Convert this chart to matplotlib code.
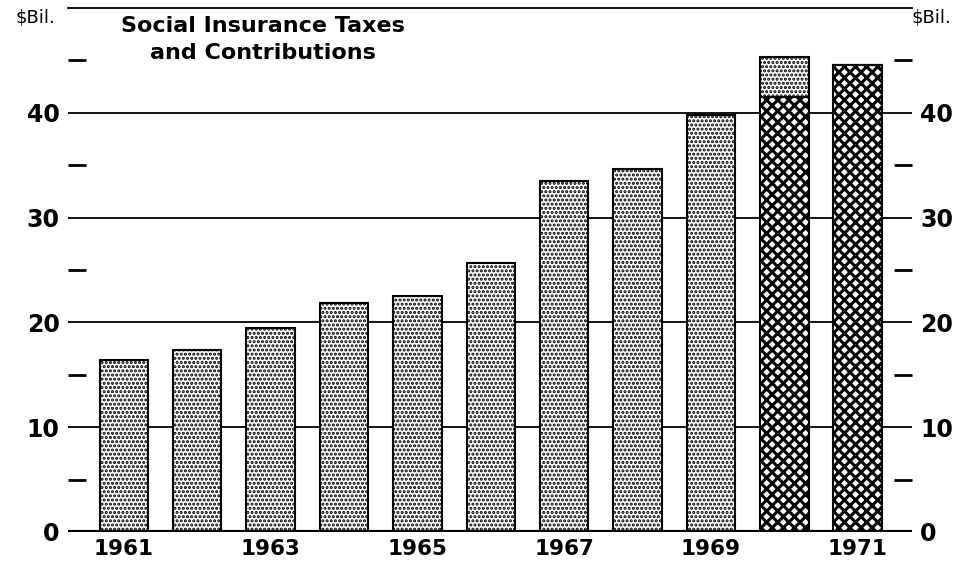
# Social Insurance Taxes and Contributions, 1961-1971
import numpy as np
import matplotlib.pyplot as plt
from matplotlib.ticker import FixedLocator

plt.rcParams['font.family'] = 'DejaVu Sans'

# ------------------------------------------
# DATA
# ------------------------------------------
years = [1961, 1962, 1963, 1964, 1965, 1966, 1967, 1968, 1969, 1970, 1971]
stippled = [16.4, 17.4, 19.5, 21.9, 22.5, 25.7, 33.5, 34.6, 39.8, 3.8, 0]
crosshatch = [0, 0, 0, 0, 0, 0, 0, 0, 0, 41.5, 44.6]
year_labels = ['1961', '1963', '1965', '1967', '1969', '1971']

x = np.arange(len(years))

fig = plt.figure(figsize=(9.8, 5.76), dpi=100)
ax = fig.add_axes([0.0694, 0.0764, 0.8612, 0.9096])

# gridlines behind the bars
for v in [10, 20, 30, 40]:
    ax.axhline(v, color='black', lw=1.3, zorder=1)
ax.axhline(0, color='black', lw=3, zorder=4)

with plt.rc_context({'hatch.linewidth': 2.2}):
    cross = ax.bar(x, crosshatch, width=0.66, color='white', edgecolor='black',
                   hatch='xxx', lw=1.5, zorder=2)
with plt.rc_context({'hatch.linewidth': 1.5}):
    dots = ax.bar(x, stippled, width=0.66, bottom=crosshatch, color='white',
                  edgecolor='black', hatch='....', lw=1.5, zorder=2)

# newer matplotlib keeps the hatch width per patch
for p in cross:
    if hasattr(p, 'set_hatch_linewidth'):
        p.set_hatch_linewidth(2.2)
for p in dots:
    if hasattr(p, 'set_hatch_linewidth'):
        p.set_hatch_linewidth(1.5)

ax.set_xlim(-0.76, 10.74)
ax.set_ylim(0, 50)

for s in ['left', 'right', 'bottom']:
    ax.spines[s].set_visible(False)
ax.spines['top'].set_linewidth(1.3)

ax.set_xticks(x[::2])
ax.set_xticklabels(year_labels, fontsize=15.5, fontweight='bold')
ax.tick_params(axis='x', length=0, pad=5)

ax.set_yticks([0, 10, 20, 30, 40])
ax.set_yticklabels(['0', '10', '20', '30', '40'], fontsize=17, fontweight='bold')
ax.yaxis.set_minor_locator(FixedLocator([5, 15, 25, 35, 45]))
ax.tick_params(axis='y', which='major', length=0, pad=6,
               left=True, right=True, labelleft=True, labelright=True)
ax.tick_params(axis='y', which='minor', direction='in', length=13, width=2,
               left=True, right=True)

ax.text(-0.015, 1.0, '$Bil.', transform=ax.transAxes, ha='right', va='top',
        fontsize=13)
ax.text(1.0, 1.0, '$Bil.', transform=ax.transAxes, ha='left', va='top',
        fontsize=13)

ax.text(1.9, 47.0, 'Social Insurance Taxes\nand Contributions', ha='center',
        va='center', fontsize=16, fontweight='bold', linespacing=1.4)

fig.savefig('out.png', dpi=100)
